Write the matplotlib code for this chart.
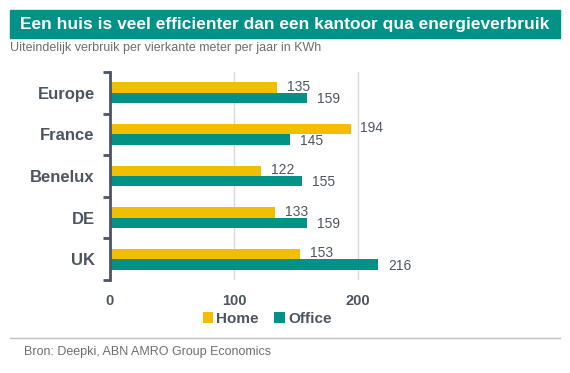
import matplotlib.pyplot as plt
import numpy as np
from matplotlib.patches import Rectangle
from matplotlib.lines import Line2D

plt.rcParams['font.family'] = ['Liberation Sans', 'DejaVu Sans']

countries = ['Europe', 'France', 'Benelux', 'DE', 'UK']
home = [135, 194, 122, 133, 153]
office = [159, 145, 155, 159, 216]

yellow = '#F2BE00'
teal = '#009286'
dark = '#4D5561'

fig = plt.figure(figsize=(5.7, 3.73), dpi=100)
W, H = 570, 373

# title banner
fig.patches.append(Rectangle((10 / W, 1 - 38 / H), 550 / W, 28 / H,
                             transform=fig.transFigure, color=teal, zorder=0))
fig.text(285 / W, 1 - 24 / H, 'Een huis is veel efficienter dan een kantoor qua energieverbruik',
         color='white', fontsize=12.5, fontweight='bold', ha='center', va='center')
fig.text(10 / W, 1 - 48 / H, 'Uiteindelijk verbruik per vierkante meter per jaar in KWh',
         color='#6D6E71', fontsize=9, ha='left', va='center')

ax = fig.add_axes([110 / W, 93 / H, 310 / W, 208 / H])
y = np.arange(len(countries))
h = 0.25
ax.barh(y - h / 2, home, height=h, color=yellow, label='Home')
ax.barh(y + h / 2, office, height=h, color=teal, label='Office')

for i in range(len(countries)):
    ax.text(home[i] + 8, y[i] - h / 2 - 0.02, str(home[i]), color=dark, fontsize=10,
            ha='left', va='center')
    ax.text(office[i] + 8, y[i] + h / 2 + 0.03, str(office[i]), color=dark, fontsize=10,
            ha='left', va='center')

ax.set_xlim(0, 250)
ax.set_ylim(len(countries) - 0.5, -0.5)
ax.set_yticks(y)
ax.set_yticklabels(countries, fontsize=12, fontweight='bold', color=dark)
ax.set_yticks(np.arange(-0.5, len(countries)), minor=True)
ax.tick_params(axis='y', which='major', length=0, pad=11)
ax.tick_params(axis='y', which='minor', length=5, width=2, color=dark)
ax.set_xticks([0, 100, 200])
ax.set_xticklabels(['0', '100', '200'], fontsize=10.5, fontweight='bold', color=dark)
ax.tick_params(axis='x', length=0, pad=10)
ax.grid(axis='x', color='#D9D9D9', linewidth=1)
ax.set_axisbelow(True)
for s in ['top', 'right', 'bottom']:
    ax.spines[s].set_visible(False)
ax.spines['left'].set_color(dark)
ax.spines['left'].set_linewidth(2)

leg = fig.legend(loc='center', bbox_to_anchor=(267 / W, 1 - 319 / H), ncol=2, frameon=False,
                 fontsize=11, handlelength=0.7, handleheight=0.7, handletextpad=0.2,
                 columnspacing=1.0)
for t in leg.get_texts():
    t.set_color(dark)
    t.set_fontweight('bold')

fig.lines.append(Line2D([10 / W, 560 / W], [1 - 338 / H, 1 - 338 / H],
                        transform=fig.transFigure, color='#BFBFBF', linewidth=1))
fig.text(24 / W, 1 - 352 / H, 'Bron: Deepki, ABN AMRO Group Economics',
         color='#6D6E71', fontsize=9, ha='left', va='center')

plt.savefig('out.png', dpi=100)
